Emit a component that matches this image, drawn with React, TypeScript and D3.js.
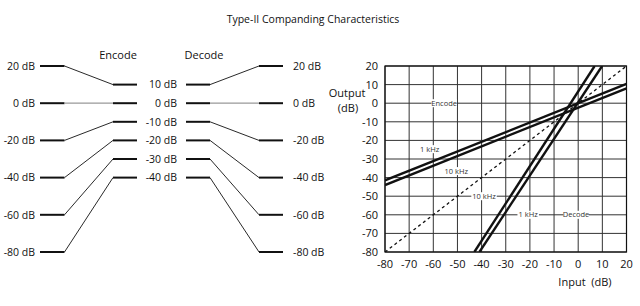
import React from "react";
import * as d3 from "d3";

// ---- data ----
const levelsIn = [20, 0, -20, -40, -60, -80];
const levelsMid = [10, 0, -10, -20, -30, -40];
const xTicks = [-80, -70, -60, -50, -40, -30, -20, -10, 0, 10, 20];
const yTicks = [20, 10, 0, -10, -20, -30, -40, -50, -60, -70, -80];

const encode1kX = [-80, 20];
const encode1kY = [-41.5, 10.4];
const encode10kX = [-80, 20];
const encode10kY = [-44, 8];
const decode10kX = [-43, 6.8];
const decode10kY = [-80, 20];
const decode1kX = [-40.9, 9.9];
const decode1kY = [-80, 20];
const unityX = [-80, 20];
const unityY = [-80, 20];

const plotLabels = ["Encode", "1 kHz", "10 kHz", "10 kHz", "1 kHz", "Decode"];
const plotLabelX = [-55.5, -61.5, -50.5, -39, -20.7, -0.9];
const plotLabelY = [0, -24.7, -36.5, -50, -60, -60];

const FONT = "'Open Sans', sans-serif";

export default function App() {
  const W = 640, H = 306;
  const x = d3.scaleLinear().domain([-80, 20]).range([385, 626.5]);
  const y = d3.scaleLinear().domain([-80, 20]).range([252, 66]);
  const line = d3.line<[number, number]>().x(d => x(d[0])).y(d => y(d[1]));
  const seg = (xs: number[], ys: number[]) => line(xs.map((v, i) => [v, ys[i]] as [number, number])) || "";

  // left diagram columns (pixel layout)
  const c1a = 40, c1b = 64.5, c2a = 113, c2b = 137, c3a = 186, c3b = 210, c4a = 259, c4b = 283;
  const txt = "#111";

  return (
    <svg width={W} height={H} style={{ position: "absolute", left: 0, top: 0, background: "#fff" }} fontFamily={FONT}>
      <rect width={W} height={H} fill="#fff" />
      <text x={313} y={23} textAnchor="middle" fontSize={10.5} fill={txt}>Type-II Companding Characteristics</text>

      {/* ---- left diagram ---- */}
      <text x={118} y={59} textAnchor="middle" fontSize={11} fill={txt}>Encode</text>
      <text x={204} y={59} textAnchor="middle" fontSize={11} fill={txt}>Decode</text>
      {levelsIn.map((v, i) => {
        const yi = y(v), ym = y(levelsMid[i]);
        const isZero = v === 0;
        return (
          <g key={i}>
            <text x={35} y={yi + 3.8} textAnchor="end" fontSize={10.5} fill={txt}>{v} dB</text>
            <text x={293} y={yi + 3.8} textAnchor="start" fontSize={10.5} fill={txt}>{v} dB</text>
            <text x={177} y={ym + 3.8} textAnchor="end" fontSize={10.5} fill={txt}>{levelsMid[i]} dB</text>
            <line x1={c1a} x2={c1b} y1={yi} y2={yi} stroke="#111" strokeWidth={2} />
            <line x1={c2a} x2={c2b} y1={ym} y2={ym} stroke="#111" strokeWidth={2} />
            <line x1={c3a} x2={c3b} y1={ym} y2={ym} stroke="#111" strokeWidth={2} />
            <line x1={c4a} x2={c4b} y1={yi} y2={yi} stroke="#111" strokeWidth={2} />
            <line x1={c1b} x2={c2a} y1={yi} y2={ym} stroke={isZero ? "#999" : "#111"} strokeWidth={isZero ? 1.2 : 0.9} />
            <line x1={c3b} x2={c4a} y1={ym} y2={yi} stroke={isZero ? "#999" : "#111"} strokeWidth={isZero ? 1.2 : 0.9} />
          </g>
        );
      })}

      {/* ---- right plot ---- */}
      <g>
        {xTicks.map(t => (
          <line key={"gx" + t} x1={x(t)} x2={x(t)} y1={y(-80)} y2={y(20)} stroke="#333" strokeWidth={1} />
        ))}
        {yTicks.map(t => (
          <line key={"gy" + t} x1={x(-80)} x2={x(20)} y1={y(t)} y2={y(t)} stroke="#333" strokeWidth={1} />
        ))}
        <rect x={x(-80)} y={y(20)} width={x(20) - x(-80)} height={y(-80) - y(20)} fill="none" stroke="#111" strokeWidth={1.2} />
        {yTicks.map(t => (
          <text key={"ty" + t} x={378} y={y(t) + 4} textAnchor="end" fontSize={11} fill={txt}>{t}</text>
        ))}
        {xTicks.map(t => (
          <text key={"tx" + t} x={x(t)} y={268} textAnchor="middle" fontSize={11} fill={txt}>{t}</text>
        ))}
        <text x={347} y={97} textAnchor="middle" fontSize={11} fill={txt}>Output</text>
        <text x={348} y={112} textAnchor="middle" fontSize={11} fill={txt}>(dB)</text>
        <text x={585} y={286} textAnchor="middle" fontSize={11} fill={txt} style={{ whiteSpace: "pre" }}>Input  (dB)</text>

        <defs>
          <clipPath id="plotclip">
            <rect x={x(-80)} y={y(20)} width={x(20) - x(-80)} height={y(-80) - y(20)} />
          </clipPath>
        </defs>
        <g clipPath="url(#plotclip)">
          <path d={seg(unityX, unityY)} stroke="#111" strokeWidth={1.3} strokeDasharray="3,3" fill="none" />
          <path d={seg(encode1kX, encode1kY)} stroke="#111" strokeWidth={2.4} fill="none" />
          <path d={seg(encode10kX, encode10kY)} stroke="#111" strokeWidth={2.4} fill="none" />
          <path d={seg(decode10kX, decode10kY)} stroke="#111" strokeWidth={2.4} fill="none" />
          <path d={seg(decode1kX, decode1kY)} stroke="#111" strokeWidth={2.4} fill="none" />
        </g>
        {plotLabels.map((s, i) => {
          const w = s.length * 3.9 + 2;
          return (
            <g key={"pl" + i}>
              <rect x={x(plotLabelX[i]) - w / 2} y={y(plotLabelY[i]) - 4} width={w} height={8} fill="#fff" />
              <text x={x(plotLabelX[i])} y={y(plotLabelY[i]) + 2.6} textAnchor="middle" fontSize={7.5} fill="#333">{s}</text>
            </g>
          );
        })}
      </g>
    </svg>
  );
}
